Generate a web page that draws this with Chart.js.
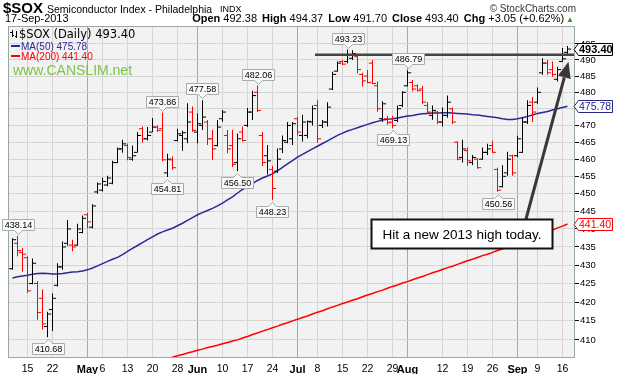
<!DOCTYPE html>
<html>
<head>
<meta charset="utf-8">
<title>$SOX Daily</title>
<script src="https://cdn.jsdelivr.net/npm/chart.js@4.4.1/dist/chart.umd.min.js"></script>
<style>
  body { margin: 0; background: #fff; }
  #wrap { position: relative; width: 617px; height: 374px; font-family: "Liberation Sans", Arial, sans-serif; color: #000; }
  #chart { position: absolute; left: 0; top: 0; }
  .t { position: absolute; white-space: nowrap; }
  .q span { margin-left: 2px; }
</style>
</head>
<body>
<div id="wrap">
  <canvas id="chart" width="617" height="374"></canvas>
  <div class="t" style="left:3px;top:0;font-size:15px;line-height:15px;font-weight:bold">$SOX</div>
  <div class="t" style="left:47px;top:4px;font-size:10.5px;line-height:11px">Semiconductor Index - Philadelphia</div>
  <div class="t" style="left:220px;top:5px;font-size:9px;line-height:9px">INDX</div>
  <div class="t" style="right:41px;top:4px;font-size:10px;line-height:10px;color:#333">&copy; StockCharts.com</div>
  <div class="t" style="left:5px;top:13px;font-size:11px;line-height:11px">17-Sep-2013</div>
  <div class="t q" style="right:43px;top:13px;font-size:11px;line-height:11px"><b>Open</b> 492.38 <span><b>High</b> 494.37</span> <span><b>Low</b> 491.70</span> <span><b>Close</b> 493.40</span> <span><b>Chg</b> +3.05 (+0.62%)</span><span style="color:#22a022;font-size:8px">&#9650;</span></div>
</div>
<script>
// trading days from 10-Apr-2013 to 17-Sep-2013, x = day index
let open = [429, 436, 433.5, 432, 425, 425, 421, 413.5, 418, 424.5,
  429.5, 436, 435.5, 435.5, 439, 444, 440.5, 450.5, 451, 452.5,
  453, 459, 463, 464, 460, 462, 469, 466, 468, 469.5,
  469, 456, 459.8, 465.5, 467, 466, 474, 468, 470, 471,
  466, 464, 472, 467, 464, 459, 468, 470, 474, 480,
  467, 461, 457, 456.5, 463, 465, 466, 472, 467, 467,
  471, 476, 470, 471, 481, 486.5, 489.5, 489.5, 490.5, 491,
  485.5, 485, 489, 482, 472, 472, 471, 471.5, 476, 482,
  483, 482, 481, 476, 473, 474, 471, 473, 475, 465,
  460.5, 462.5, 459, 460, 460, 462, 464, 457, 452, 456,
  461, 461, 462, 471, 477, 477, 486, 489, 487, 484,
  489.5, 492.38];
let high = [437.4, 438.14, 434.7, 432.4, 431.8, 425.6, 423.4, 417.4, 422.3, 430.5,
  436.5, 442.5, 437, 441.5, 443.8, 444.6, 447, 453.2, 454.6, 455.2,
  459.5, 463.4, 465.7, 464.6, 464, 468, 469.7, 469.5, 472.2, 470,
  473.86, 461.6, 460.8, 469, 468.4, 476.7, 475.7, 473.6, 477.58, 471.6,
  468.6, 471.6, 474.6, 468.6, 468.6, 467.6, 469.7, 475.2, 480.5, 482.06,
  468, 464.2, 458, 463.1, 467, 471, 471, 472.6, 473.2, 471.5,
  476, 477.6, 471.6, 477, 486.3, 489.5, 490, 493.23, 493, 491.6,
  486, 486.9, 490, 483.3, 477.3, 472.8, 472.8, 476, 480.3, 486.79,
  483.8, 482.4, 481.9, 477, 476, 474.3, 475.4, 479, 475.4, 465.3,
  465.7, 463.4, 461.2, 460.3, 463.4, 464.5, 465.4, 457.5, 458.2, 462.2,
  461.3, 466.9, 472.5, 477.6, 478.6, 481.5, 490.5, 490, 489.5, 487.9,
  493.7, 494.37];
let low = [428.7, 432.4, 428.2, 422.4, 424.8, 415.3, 412.7, 410.68, 412.3, 424.2,
  428.7, 435.3, 433.8, 435.3, 438.8, 440.2, 440.2, 450, 450.6, 452.1,
  452.7, 458.9, 461.9, 459.7, 459.5, 462, 464.9, 465.5, 468, 468,
  459.4, 454.81, 456.9, 465.2, 462.5, 464.7, 468.1, 464.7, 468.6, 464.2,
  459.8, 463.7, 471.1, 461.7, 457.7, 456.5, 465.2, 469.5, 471.6, 474,
  458, 455.5, 448.23, 456, 461.8, 464.7, 464.2, 467, 465.2, 466.2,
  470, 464.8, 469.2, 469.7, 480.7, 486.4, 488.4, 489, 490, 485.9,
  481.8, 482.8, 482.5, 474.1, 471, 470.2, 469.13, 471, 475.5, 481.8,
  480.3, 480.3, 476.5, 473.6, 471.7, 470.4, 469.7, 472.3, 470.4, 459.7,
  459, 458.1, 458.3, 457.2, 459.8, 461.2, 461.8, 450.56, 451.8, 455.2,
  455.2, 460.6, 461.8, 470.4, 471, 476.5, 485.4, 485.4, 484.8, 483.3,
  489.5, 491.7];
let close = [437, 434, 433, 423, 430.5, 417.2, 414.2, 416.8, 421, 429.5,
  435, 440, 435, 440, 443, 442, 446.5, 452.8, 453.5, 454.5,
  459, 463, 464.5, 460.5, 461, 467, 466, 467, 469.5, 468.5,
  459.8, 460, 457.5, 467.5, 467.8, 471, 468.5, 470.5, 472.5, 466,
  463, 469.5, 474, 463, 458.5, 466, 465.5, 474, 479, 474.5,
  459, 459.5, 451.5, 460, 465.5, 470, 470.5, 468, 471, 471.2,
  475, 466, 471, 475.5, 485.5, 489, 488.7, 491.5, 492, 487,
  483.5, 483, 482.7, 475, 476.5, 470.8, 470, 475, 480, 486,
  481, 480.5, 477, 474, 474.5, 471, 473, 477, 471, 460,
  463, 459.5, 460.5, 457.5, 462, 463, 462, 451, 455, 460,
  456, 466, 471, 476, 474, 480, 489, 486, 485.5, 487,
  490.35, 493.40];
let ma50 = [426.5, 426.8, 427.0, 427.2, 427.5, 427.7, 427.8, 427.7, 427.6, 427.6,
  427.7, 427.9, 428.1, 428.2, 428.4, 428.7, 429.2, 429.8, 430.4, 431.0,
  431.6, 432.1, 432.9, 433.8, 434.6, 435.4, 436.2, 437.0, 437.8, 438.6,
  439.2, 439.7, 440.2, 440.9, 441.6, 442.4, 443.2, 444.0, 444.6, 445.2,
  445.8, 446.5, 447.3, 448.2, 449.1, 450.2, 451.2, 452.1, 452.9, 453.8,
  454.5, 455.1, 455.7, 456.6, 457.6, 458.6, 459.6, 460.6, 461.4, 462.2,
  463.0, 463.8, 464.6, 465.4, 466.2, 467.0, 467.7, 468.3, 468.8, 469.3,
  469.8, 470.3, 470.8, 471.2, 471.6, 471.8, 472.0, 472.2, 472.5, 472.8,
  473.0, 473.3, 473.5, 473.6, 473.7, 473.7, 473.8, 473.8, 473.7, 473.6,
  473.5, 473.4, 473.2, 473.1, 472.9, 472.7, 472.5, 472.3, 472.0, 471.8,
  471.8, 472.0, 472.3, 472.7, 473.1, 473.6, 473.9, 474.2, 474.6, 475.0,
  475.4, 475.78];
let ma200 = [394.6, 394.9, 395.3, 395.6, 396.0, 396.3, 396.6, 397.0, 397.3, 397.7,
  398.0, 398.3, 398.7, 399.0, 399.4, 399.7, 400.0, 400.4, 400.7, 401.1,
  401.4, 401.7, 402.1, 402.4, 402.8, 403.1, 403.4, 403.8, 404.1, 404.5,
  404.8, 405.2, 405.5, 405.9, 406.2, 406.6, 406.9, 407.3, 407.6, 408.0,
  408.3, 408.6, 409.0, 409.3, 409.7, 410.0, 410.5, 410.9, 411.4, 411.8,
  412.3, 412.7, 413.2, 413.6, 414.1, 414.5, 415.0, 415.4, 415.9, 416.3,
  416.8, 417.3, 417.7, 418.2, 418.7, 419.1, 419.6, 420.0, 420.5, 420.9,
  421.4, 421.9, 422.3, 422.8, 423.2, 423.7, 424.2, 424.6, 425.1, 425.5,
  426.0, 426.5, 426.9, 427.4, 427.9, 428.3, 428.8, 429.3, 429.7, 430.2,
  430.7, 431.2, 431.6, 432.1, 432.6, 433.0, 433.5, 434.0, 434.5, 434.9,
  435.4, 435.9, 436.5, 437.0, 437.6, 438.1, 438.7, 439.2, 439.7, 440.3,
  440.8, 441.4];

let tickIdx = [3, 8, 15, 18, 23, 28, 33, 37, 42, 47, 52, 57, 61, 66, 71, 76, 79, 86, 91, 96, 101, 105, 110];
let tickLab = ['15', '22', 'May', '6', '13', '20', '28', 'Jun', '10', '17', '24', 'Jul', '8', '15', '22', '29', 'Aug', '12', '19', '26', 'Sep', '9', '16'];
let monthIdx = [15, 37, 57, 79, 101];
let yTicks = [410, 415, 420, 425, 430, 435, 440, 445, 450, 455, 460, 465, 470, 475, 480, 485, 490, 495];

let peakIdx = [1, 30, 38, 49, 67, 79];
let troughIdx = [7, 31, 45, 52, 76, 97];
let lastVals = [493.40, 475.78, 441.40];
let trend = [60.5, 112.5, 491.6];
let calloutBox = [71.7, 107.9, 442.8, 434.7];
let arrowFrom = [102.7, 442.8];
let arrowTo = [111.2, 489.4];
let calloutText = 'Hit a new 2013 high today.';

let barColor = close.map((c, i) => (i > 0 && c < close[i - 1]) ? '#ff0000' : '#000000');
let FONT = '"Liberation Sans", Arial, sans-serif';

function tag(ctx, px, py, txt, up) {
    ctx.font = '9px ' + FONT;
    let w = Math.round(ctx.measureText(txt).width) + 4;
    let h = 11;
    let bx = Math.round(px - w / 2) + 0.5;
    let by = up ? Math.round(py - 6 - h) + 0.5 : Math.round(py + 6) + 0.5;
    let tip = Math.round(px) + 0.5;
    ctx.beginPath();
    if (up) {
        ctx.moveTo(bx, by);
        ctx.lineTo(bx + w, by);
        ctx.lineTo(bx + w, by + h);
        ctx.lineTo(tip + 4, by + h);
        ctx.lineTo(tip, by + h + 4);
        ctx.lineTo(tip - 4, by + h);
        ctx.lineTo(bx, by + h);
    } else {
        ctx.moveTo(bx, by);
        ctx.lineTo(tip - 4, by);
        ctx.lineTo(tip, by - 4);
        ctx.lineTo(tip + 4, by);
        ctx.lineTo(bx + w, by);
        ctx.lineTo(bx + w, by + h);
        ctx.lineTo(bx, by + h);
    }
    ctx.closePath();
    ctx.fillStyle = '#fafafa';
    ctx.strokeStyle = '#a3aeaa';
    ctx.lineWidth = 1;
    ctx.fill();
    ctx.stroke();
    ctx.fillStyle = '#000';
    ctx.textAlign = 'center';
    ctx.textBaseline = 'middle';
    ctx.fillText(txt, bx + w / 2, by + h / 2 + 0.5);
}

let notes = {
    id: 'notes',
    beforeDraw(chart) {
        let { ctx, chartArea: a } = chart;
        ctx.save();
        ctx.fillStyle = '#f2f2f2';
        ctx.fillRect(a.left, a.top, a.right - a.left, a.bottom - a.top);
        ctx.restore();
    },
    afterDraw(chart) {
        let { ctx, chartArea: a, scales: { x, y } } = chart;
        ctx.save();

        // frame
        ctx.strokeStyle = '#98a8a2';
        ctx.lineWidth = 1;
        ctx.strokeRect(a.left + 0.5, a.top + 0.5, a.right - a.left - 1, a.bottom - a.top - 1);

        // legend
        ctx.strokeStyle = '#000';
        ctx.beginPath();
        ctx.moveTo(12.5, 30); ctx.lineTo(12.5, 37);
        ctx.moveTo(10, 32.5); ctx.lineTo(12.5, 32.5);
        ctx.moveTo(12.5, 35.5); ctx.lineTo(14, 35.5);
        ctx.moveTo(16.5, 31); ctx.lineTo(16.5, 38);
        ctx.moveTo(15, 36.5); ctx.lineTo(16.5, 36.5);
        ctx.stroke();
        ctx.textAlign = 'left';
        ctx.textBaseline = 'alphabetic';
        ctx.fillStyle = '#000';
        ctx.font = '11.5px "DejaVu Sans", sans-serif';
        ctx.fillText('$SOX (Daily) 493.40', 19, 38);
        ctx.lineWidth = 2;
        ctx.strokeStyle = '#2a2a96';
        ctx.beginPath(); ctx.moveTo(11, 46); ctx.lineTo(20, 46); ctx.stroke();
        ctx.strokeStyle = '#ff0000';
        ctx.beginPath(); ctx.moveTo(11, 56); ctx.lineTo(20, 56); ctx.stroke();
        ctx.font = '10px ' + FONT;
        ctx.fillStyle = '#2a2a96';
        ctx.fillText('MA(50) 475.78', 21, 50);
        ctx.fillStyle = '#ff0000';
        ctx.fillText('MA(200) 441.40', 21, 60);
        ctx.font = '14px ' + FONT;
        ctx.fillStyle = '#7dc443';
        ctx.fillText('www.CANSLIM.net', 13, 75);

        // high / low tags
        peakIdx.forEach(i => tag(ctx, x.getPixelForValue(i), y.getPixelForValue(high[i]), high[i].toFixed(2), true));
        troughIdx.forEach(i => tag(ctx, x.getPixelForValue(i), y.getPixelForValue(low[i]), low[i].toFixed(2), false));

        // arrow
        let x1 = x.getPixelForValue(arrowFrom[0]), y1 = y.getPixelForValue(arrowFrom[1]);
        let x2 = x.getPixelForValue(arrowTo[0]), y2 = y.getPixelForValue(arrowTo[1]);
        let ang = Math.atan2(y2 - y1, x2 - x1);
        let hl = 16, hw = 6.5;
        let hx = x2 - hl * Math.cos(ang), hy = y2 - hl * Math.sin(ang);
        ctx.strokeStyle = '#383838';
        ctx.fillStyle = '#383838';
        ctx.lineWidth = 3;
        ctx.beginPath(); ctx.moveTo(x1, y1); ctx.lineTo(hx, hy); ctx.stroke();
        ctx.beginPath();
        ctx.moveTo(x2, y2);
        ctx.lineTo(hx + hw * Math.sin(ang), hy - hw * Math.cos(ang));
        ctx.lineTo(hx - hw * Math.sin(ang), hy + hw * Math.cos(ang));
        ctx.closePath();
        ctx.fill();

        // callout
        let cx0 = Math.round(x.getPixelForValue(calloutBox[0])) + 0.5;
        let cx1 = Math.round(x.getPixelForValue(calloutBox[1])) + 0.5;
        let cy0 = Math.round(y.getPixelForValue(calloutBox[2])) + 0.5;
        let cy1 = Math.round(y.getPixelForValue(calloutBox[3])) + 0.5;
        ctx.fillStyle = '#fff';
        ctx.fillRect(cx0, cy0, cx1 - cx0, cy1 - cy0);
        ctx.strokeStyle = '#111';
        ctx.lineWidth = 2;
        ctx.strokeRect(cx0, cy0, cx1 - cx0, cy1 - cy0);
        ctx.fillStyle = '#000';
        ctx.font = '13.5px ' + FONT;
        ctx.textAlign = 'center';
        ctx.textBaseline = 'middle';
        ctx.fillText(calloutText, (cx0 + cx1) / 2, (cy0 + cy1) / 2 + 1);

        // last value boxes on the price axis
        let boxCol = ['#000000', '#23238e', '#ff0000'];
        lastVals.forEach((v, k) => {
            let yc = Math.round(y.getPixelForValue(v)) + 0.5;
            let l = a.right - 1, b = a.right + 3.5, r = 612.5;
            ctx.beginPath();
            ctx.moveTo(l, yc);
            ctx.lineTo(b, yc - 6);
            ctx.lineTo(r, yc - 6);
            ctx.lineTo(r, yc + 6);
            ctx.lineTo(b, yc + 6);
            ctx.closePath();
            ctx.fillStyle = '#fff';
            ctx.fill();
            ctx.strokeStyle = boxCol[k];
            ctx.lineWidth = 1;
            ctx.stroke();
            ctx.fillStyle = boxCol[k];
            ctx.font = (k === 0 ? 'bold 11px ' : '10.5px ') + FONT;
            ctx.textAlign = 'left';
            ctx.textBaseline = 'middle';
            ctx.fillText(v.toFixed(2), b + 0.5, yc + 0.5);
        });
        ctx.restore();
    }
};

let ctx = document.getElementById('chart').getContext('2d');
let myChart = new Chart(ctx, {
    data: {
        datasets: [{
            type: 'line',
            data: [{ x: trend[0], y: trend[2] }, { x: trend[1], y: trend[2] }],
            borderColor: '#444444',
            borderWidth: 2.5,
            pointRadius: 0,
            order: 0
        }, {
            type: 'bar',
            data: high.map((h, i) => ({ x: i, y: [low[i], h] })),
            backgroundColor: barColor,
            borderWidth: 0,
            barThickness: 1,
            inflateAmount: 0,
            order: 1
        }, {
            type: 'scatter',
            data: open.map((o, i) => ({ x: i - 0.36, y: o })),
            pointStyle: 'line',
            pointRadius: 1.8,
            pointBorderWidth: 1,
            pointBorderColor: barColor,
            order: 1
        }, {
            type: 'scatter',
            data: close.map((c, i) => ({ x: i + 0.36, y: c })),
            pointStyle: 'line',
            pointRadius: 1.8,
            pointBorderWidth: 1,
            pointBorderColor: barColor,
            order: 1
        }, {
            type: 'line',
            data: ma50.map((v, i) => ({ x: i, y: v })),
            borderColor: '#2a2a96',
            borderWidth: 1.5,
            pointRadius: 0,
            order: 2
        }, {
            type: 'line',
            data: ma200.map((v, i) => ({ x: i, y: v })),
            borderColor: '#ff0000',
            borderWidth: 1.5,
            pointRadius: 0,
            order: 2
        }]
    },
    options: {
        responsive: false,
        animation: false,
        events: [],
        layout: { padding: { top: 26, left: 8, right: 0, bottom: 0 } },
        plugins: { legend: { display: false }, tooltip: { enabled: false } },
        scales: {
            x: {
                type: 'linear',
                min: -0.9,
                max: 112.5,
                offset: false,
                afterBuildTicks: s => { s.ticks = tickIdx.map(v => ({ value: v })); },
                afterFit: s => { s.height = 16; },
                grid: {
                    offset: false,
                    drawTicks: false,
                    color: c => (c.tick && monthIdx.includes(c.tick.value)) ? '#a8a8a8' : '#d5d5d5'
                },
                border: { display: false },
                ticks: {
                    autoSkip: false,
                    maxRotation: 0,
                    padding: 5,
                    color: '#000',
                    callback: (v, i) => tickLab[i],
                    font: c => ({ family: FONT, size: monthIdx.includes(c.tick && c.tick.value) ? 11 : 10.5, weight: monthIdx.includes(c.tick && c.tick.value) ? 'bold' : 'normal' })
                }
            },
            y: {
                type: 'logarithmic',
                position: 'right',
                min: 405.3,
                max: 500.7,
                bounds: 'data',
                beginAtZero: false,
                afterBuildTicks: s => { s.ticks = yTicks.map(v => ({ value: v })); },
                afterFit: s => { s.width = 42; },
                grid: { color: '#d5d5d5', tickLength: 4, tickColor: '#000', drawTicks: true },
                border: { display: false },
                ticks: {
                    padding: 1,
                    color: '#000',
                    font: { family: FONT, size: 9.5 },
                    callback: v => String(v)
                }
            }
        }
    },
    plugins: [notes]
});
</script>
</body>
</html>
